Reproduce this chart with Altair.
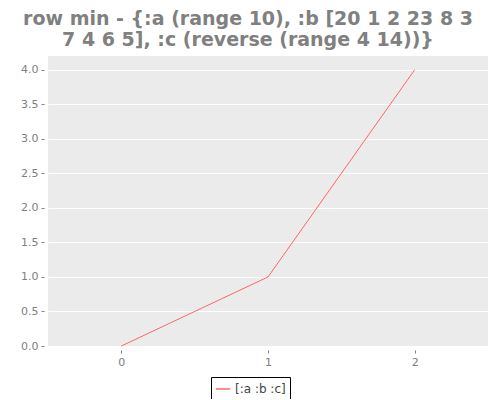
import altair as alt
import pandas as pd

x_vals = [0, 1, 2]
y_vals = [0.0, 1.0, 4.0]
series = ["[:a :b :c]"] * 3
title_lines = ["row min - {:a (range 10), :b [20 1 2 23 8 3",
               "7 4 6 5], :c (reverse (range 4 14))}"]
y_ticks = [0.0, 0.5, 1.0, 1.5, 2.0, 2.5, 3.0, 3.5, 4.0]
x_ticks = [0, 1, 2]

df = pd.DataFrame({"x": x_vals, "y": y_vals, "s": series})

gray = "#808080"

chart = alt.Chart(df).mark_line(strokeWidth=1).encode(
    x=alt.X("x:Q",
            scale=alt.Scale(domain=[-0.5, 2.5], nice=False, zero=False),
            axis=alt.Axis(values=x_ticks, format="d", grid=False, title=None,
                          domain=False, tickColor=gray, tickSize=3, offset=4,
                          labelColor=gray, labelFontSize=11, labelFont="DejaVu Sans",
                          labelPadding=3)),
    y=alt.Y("y:Q",
            scale=alt.Scale(domain=[0, 4.2], nice=False),
            axis=alt.Axis(values=y_ticks, format=".1f", grid=True, gridColor="white",
                          gridWidth=1, title=None, domain=False, tickColor=gray,
                          tickSize=3, offset=4, labelColor=gray, labelFontSize=11,
                          labelFont="DejaVu Sans", labelPadding=3)),
    color=alt.Color("s:N",
                    scale=alt.Scale(range=["#FF6666"]),
                    legend=alt.Legend(orient="none", legendX=163, legendY=321,
                                      title=None, strokeColor="black", padding=4,
                                      symbolType="stroke", symbolSize=200,
                                      symbolStrokeWidth=1.5,
                                      labelFontSize=12, labelFont="DejaVu Sans",
                                      labelColor="#444444")),
).properties(
    width=440, height=290,
    title=alt.TitleParams(text=title_lines, fontSize=19, fontWeight="bold",
                          font="DejaVu Sans", color=gray, anchor="middle",
                          lineHeight=21, offset=6, dx=-20),
    padding={"left": 40, "top": 48, "right": 4, "bottom": 53},
    autosize="none",
    background="white",
).configure_view(fill="#EBEBEB", stroke=None)

chart.save("out.html", embed_options={"renderer": "svg", "actions": False})
